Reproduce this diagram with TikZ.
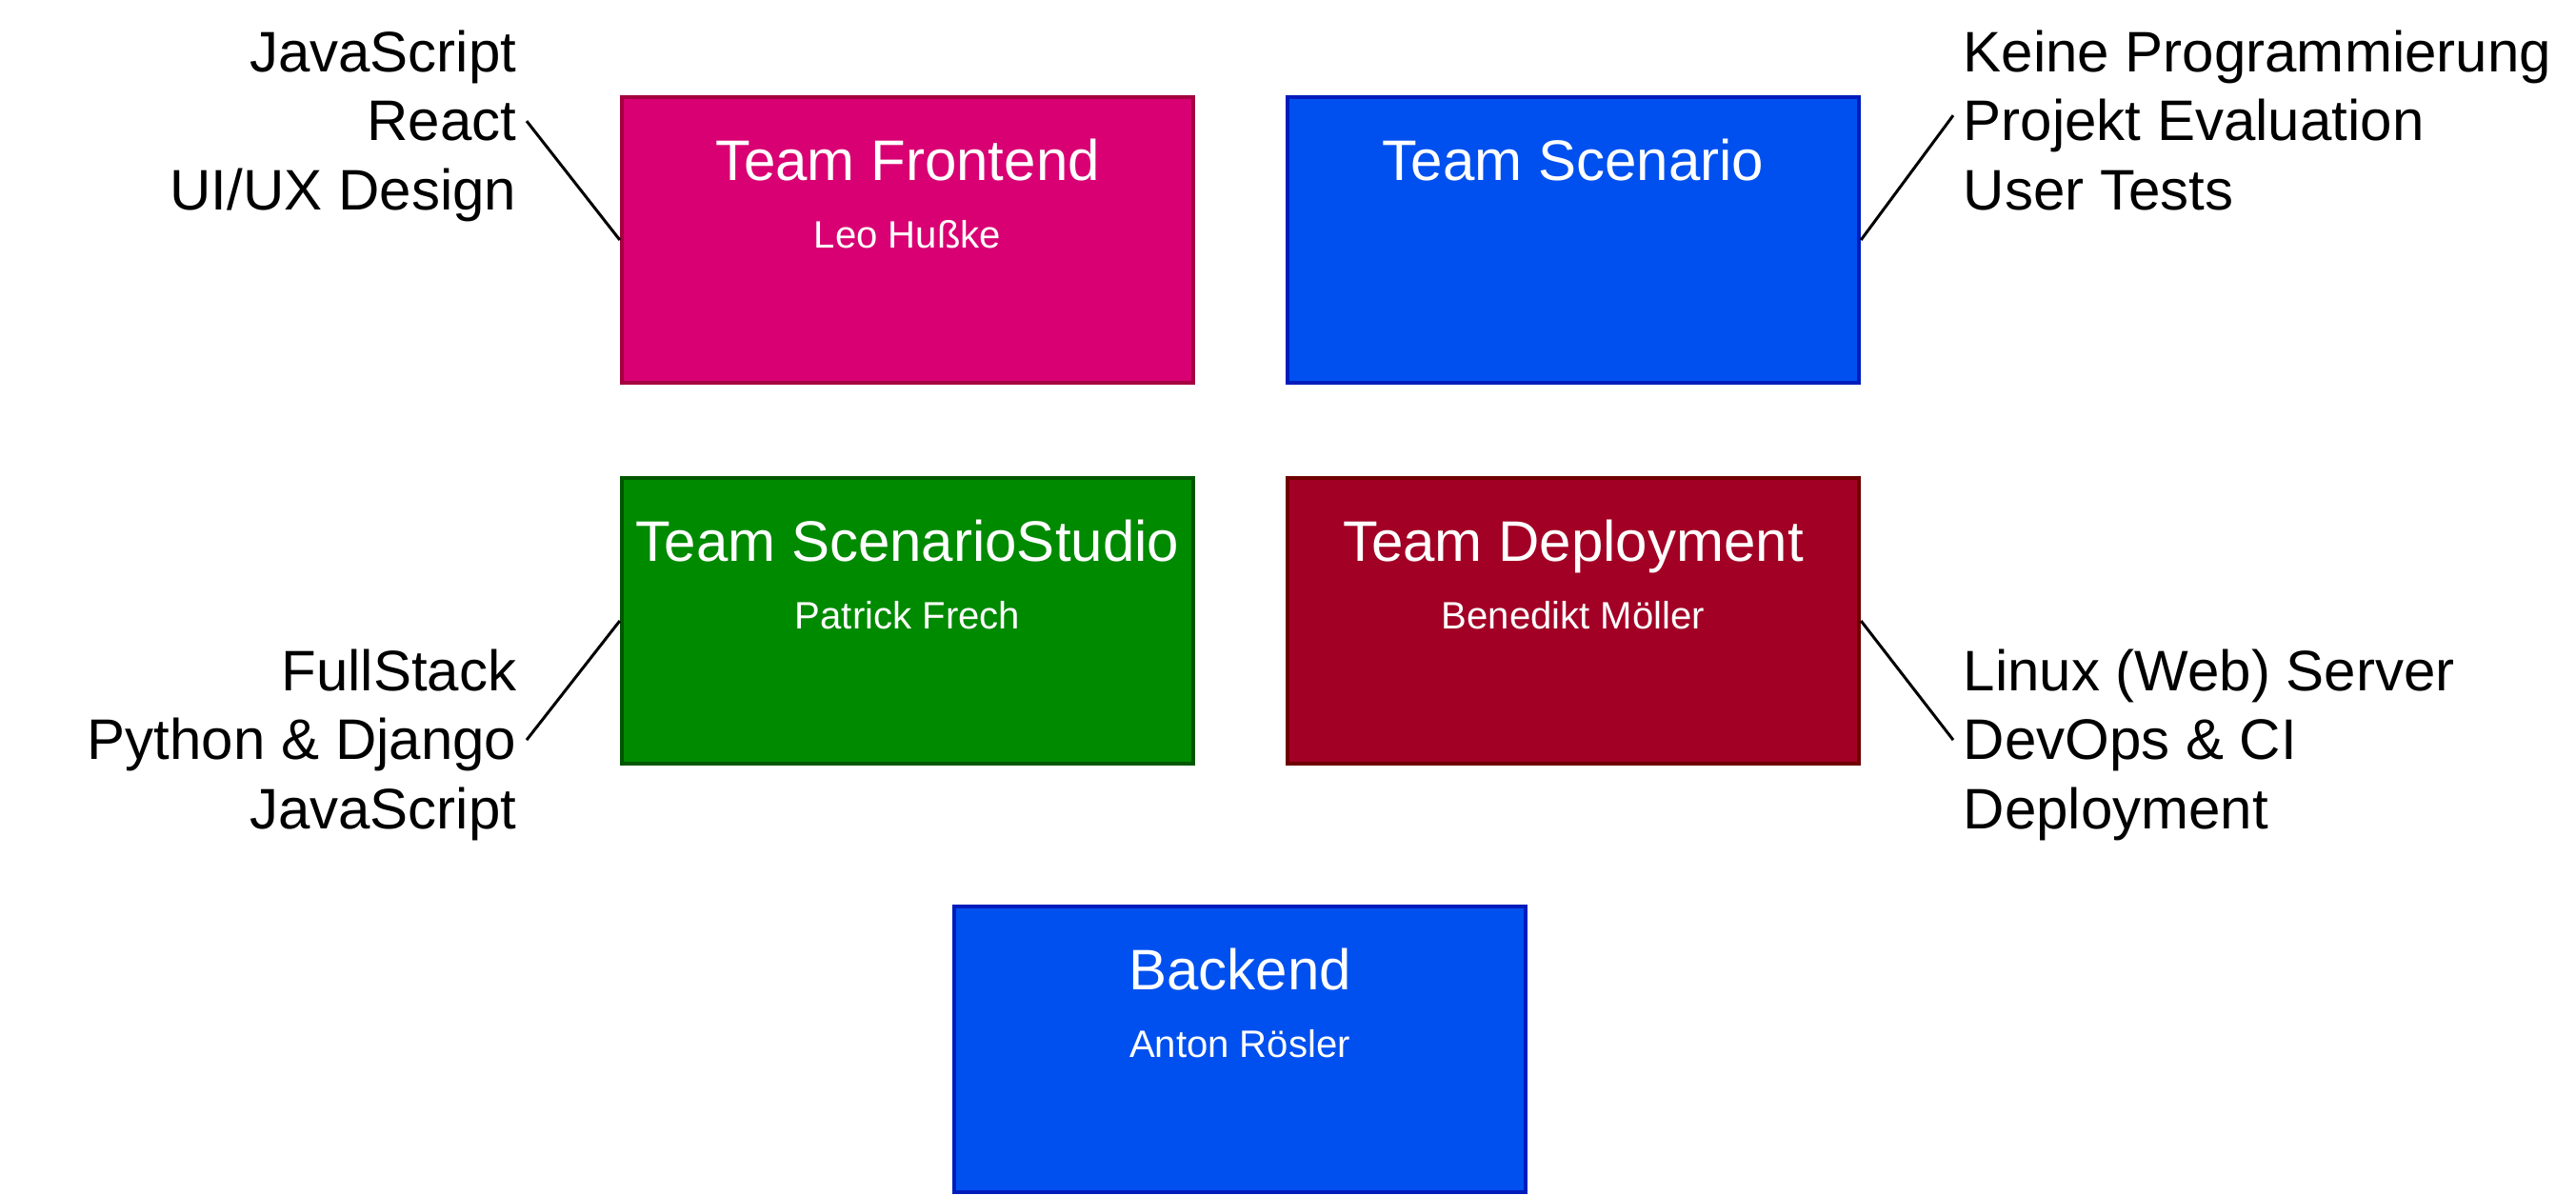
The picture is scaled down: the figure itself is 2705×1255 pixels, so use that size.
\documentclass[tikz,border=0pt]{standalone}
\usepackage{fontspec}
\setmainfont{Liberation Sans}
\definecolor{feFill}{HTML}{D80073}
\definecolor{feLine}{HTML}{A50040}
\definecolor{blueFill}{HTML}{0050EF}
\definecolor{blueLine}{HTML}{001DBC}
\definecolor{grFill}{HTML}{008A00}
\definecolor{grLine}{HTML}{005700}
\definecolor{dpFill}{HTML}{A20025}
\definecolor{dpLine}{HTML}{6F0000}
\tikzset{
  teambox/.style 2 args={draw=#2, fill=#1, line width=0.04cm, rectangle,
    minimum width=6.0cm, minimum height=3.0cm, inner sep=0pt},
  titletext/.style={text=white, anchor=base, inner sep=0pt,
    font=\fontsize{17.07pt}{20.6pt}\selectfont},
  nametext/.style={text=white, anchor=base, inner sep=0pt,
    font=\fontsize{11.4pt}{13.7pt}\selectfont},
  skills/.style={inner xsep=0.1cm, inner ysep=0pt,
    font=\fontsize{17.07pt}{20.6pt}\selectfont},
  skillsleft/.style={skills, align=right, anchor=north east},
  skillsright/.style={skills, align=left, anchor=north west},
  link/.style={draw=black, line width=0.03cm},
}
\begin{document}
\begin{tikzpicture}[x=0.01cm, y=-0.01cm]
  \useasboundingbox (0,0) rectangle (2705,1255);

  % team boxes
  \node[teambox={feFill}{feLine}]     (fe) at (953,252)  {};
  \node[teambox={blueFill}{blueLine}] (sc) at (1652,252) {};
  \node[teambox={grFill}{grLine}]     (st) at (953,652)  {};
  \node[teambox={dpFill}{dpLine}]     (dp) at (1652,652) {};
  \node[teambox={blueFill}{blueLine}] (be) at (1302,1102) {};

  % titles and leads
  \node[titletext] (feT) at ([yshift=-0.9cm]fe.north) {Team Frontend};
  \node[nametext]  (feN) at ([yshift=-1.6cm]fe.north) {Leo Hußke};
  \node[titletext] (scT) at ([yshift=-0.9cm]sc.north) {Team Scenario};
  \node[titletext] (stT) at ([yshift=-0.9cm]st.north) {Team ScenarioStudio};
  \node[nametext]  (stN) at ([yshift=-1.6cm]st.north) {Patrick Frech};
  \node[titletext] (dpT) at ([yshift=-0.9cm]dp.north) {Team Deployment};
  \node[nametext]  (dpN) at ([yshift=-1.6cm]dp.north) {Benedikt Möller};
  \node[titletext] (beT) at ([yshift=-0.9cm]be.north) {Backend};
  \node[nametext]  (beN) at ([yshift=-1.6cm]be.north) {Anton Rösler};

  % skill lists
  \node[skillsleft]  (feS) at (553,31)   {JavaScript\\React\\UI/UX Design};
  \node[skillsright] (scS) at (2051,31)  {Keine Programmierung\\Projekt Evaluation\\User Tests};
  \node[skillsleft]  (stS) at (553,681)  {FullStack\\Python \& Django\\JavaScript};
  \node[skillsright] (dpS) at (2051,681) {Linux (Web) Server\\DevOps \& CI\\Deployment};

  % connectors
  \draw[link] ([yshift=0.05cm]feS.east) -- (fe.west);
  \draw[link] (sc.east) -- ([yshift=0.05cm]scS.west);
  \draw[link] ([yshift=0.05cm]stS.east) -- (st.west);
  \draw[link] (dp.east) -- ([yshift=0.05cm]dpS.west);
\end{tikzpicture}
\end{document}
